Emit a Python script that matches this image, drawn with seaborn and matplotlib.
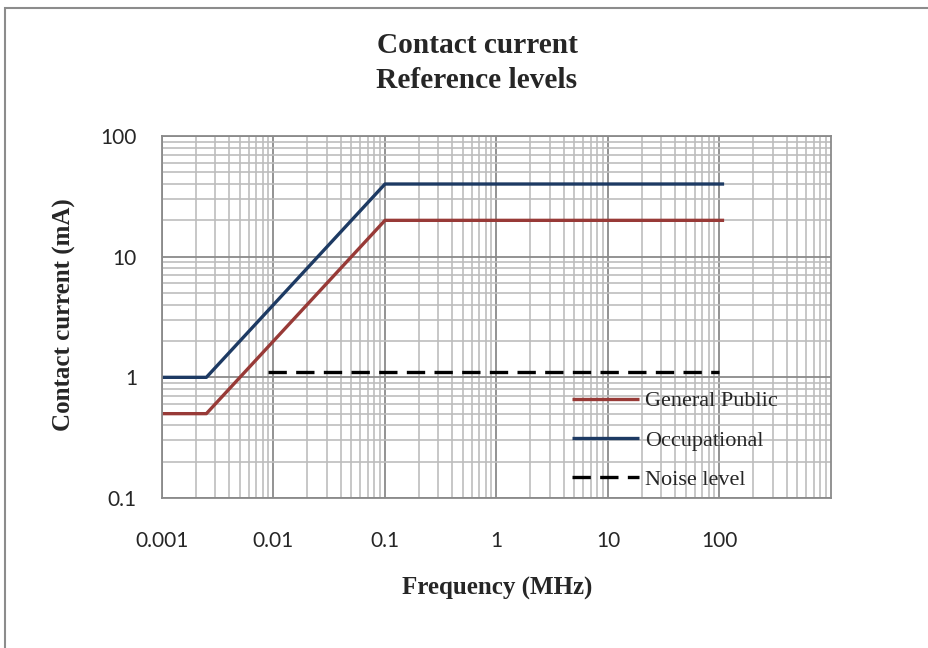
import matplotlib
matplotlib.use("Agg")
import matplotlib.pyplot as plt
from matplotlib.patches import Rectangle
from matplotlib.ticker import LogLocator, FixedLocator, NullFormatter
import seaborn as sns

# reference levels (MHz -> mA)
freq = [0.001, 0.0025, 0.1, 110]
general_public = [0.5, 0.5, 20, 20]
occupational = [1, 1, 40, 40]
noise_freq = [0.009, 100]
noise_level = [1.1, 1.1]

x_ticks = [0.001, 0.01, 0.1, 1, 10, 100]
x_tick_labels = ["0.001", "0.01", "0.1", "1", "10", "100"]
y_ticks = [0.1, 1, 10, 100]
y_tick_labels = ["0.1", "1", "10", "100"]

sns.set_style("white")
serif = ["Liberation Serif", "DejaVu Serif"]

fig = plt.figure(figsize=(9.29, 6.48), dpi=100)
ax = fig.add_axes([162 / 929, 1 - 498 / 648, 669 / 929, 362 / 648])

red = "#983a37"
blue = "#1d3a63"
sns.lineplot(x=freq, y=general_public, ax=ax, color=red, lw=2.4, label="General Public")
sns.lineplot(x=freq, y=occupational, ax=ax, color=blue, lw=2.4, label="Occupational")
sns.lineplot(x=noise_freq, y=noise_level, ax=ax, color="black", lw=2.4,
             dashes=(5.5, 2.8), label="Noise level")
for ln in ax.get_lines():
    ln.set_solid_capstyle("butt")
    ln.set_dash_capstyle("butt")

ax.set_xscale("log")
ax.set_yscale("log")
ax.set_xlim(0.001, 1000)
ax.set_ylim(0.1, 100)

ax.xaxis.set_major_locator(FixedLocator(x_ticks))
ax.set_xticklabels(x_tick_labels)
ax.yaxis.set_major_locator(FixedLocator(y_ticks))
ax.set_yticklabels(y_tick_labels)
ax.xaxis.set_minor_locator(LogLocator(base=10, subs=range(2, 10), numticks=20))
ax.yaxis.set_minor_locator(LogLocator(base=10, subs=range(2, 10), numticks=20))
ax.xaxis.set_minor_formatter(NullFormatter())
ax.yaxis.set_minor_formatter(NullFormatter())

ax.grid(True, which="major", color="#8a8a8a", lw=1.3)
ax.grid(True, which="minor", color="#bdbdbd", lw=1.2)
ax.set_axisbelow(True)
for s in ax.spines.values():
    s.set_color("#8a8a8a")
    s.set_linewidth(1.3)

ax.tick_params(which="both", length=0)
ax.tick_params(axis="x", pad=24, labelsize=15)
ax.tick_params(axis="y", pad=18, labelsize=15)
for t in ax.get_xticklabels() + ax.get_yticklabels():
    t.set_family(["Lato", "DejaVu Sans"])

ax.legend(loc="upper left", bbox_to_anchor=(0.613, 0.296), frameon=False,
          prop={"family": serif, "size": 16}, handlelength=3.0,
          handletextpad=0.3, labelspacing=0.84, borderpad=0, borderaxespad=0)

fig.text(477 / 929, 1 - 63 / 648, "Contact current\nReference levels", ha="center",
         va="center", family=serif, weight="bold", fontsize=21.2, linespacing=1.35)
fig.text(497 / 929, 1 - 588 / 648, "Frequency (MHz)", ha="center", va="center",
         family=serif, weight="bold", fontsize=18)
fig.text(64 / 929, 1 - 315 / 648, "Contact current (mA)", ha="center", va="center",
         rotation=90, family=serif, weight="bold", fontsize=18)

fig.patches.append(Rectangle((5 / 929, -0.1), 1.2, 1 - 8 / 648 + 0.1,
                             transform=fig.transFigure, fill=False,
                             edgecolor="#8c8c8c", lw=1.5))

fig.savefig("out.png", dpi=100)
